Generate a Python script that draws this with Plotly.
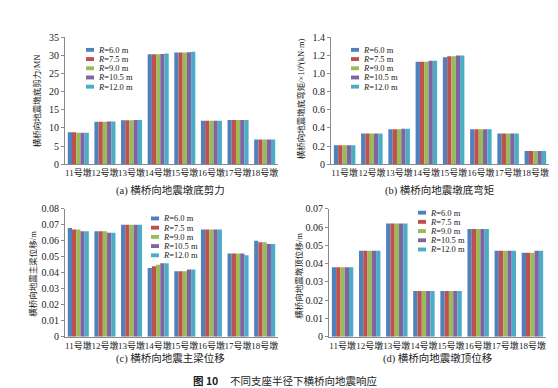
import plotly.graph_objects as go

# ---------------- data ----------------
piers = ["11号墩", "12号墩", "13号墩", "14号墩", "15号墩", "16号墩", "17号墩", "18号墩"]
radius_labels = ["<i>R</i>=6.0 m", "<i>R</i>=7.5 m", "<i>R</i>=9.0 m", "<i>R</i>=10.5 m", "<i>R</i>=12.0 m"]
colors = ["#4F81BD", "#C0504D", "#9BBB59", "#8064A2", "#4BACC6"]

# (a) pier-bottom shear, MN  (one list per radius)
shear_R6 = [8.8, 11.7, 12.1, 30.3, 30.8, 12.0, 12.2, 6.8]
shear_R75 = [8.8, 11.7, 12.1, 30.3, 30.8, 12.0, 12.2, 6.8]
shear_R9 = [8.7, 11.7, 12.1, 30.3, 30.8, 12.0, 12.2, 6.8]
shear_R105 = [8.7, 11.8, 12.2, 30.4, 30.9, 12.0, 12.2, 6.8]
shear_R12 = [8.7, 11.8, 12.2, 30.5, 31.0, 12.0, 12.2, 6.8]

# (b) pier-bottom moment, x10^6 kN*m
moment_R6 = [0.21, 0.34, 0.385, 1.13, 1.18, 0.385, 0.34, 0.145]
moment_R75 = [0.21, 0.34, 0.385, 1.13, 1.19, 0.385, 0.34, 0.145]
moment_R9 = [0.21, 0.34, 0.385, 1.13, 1.19, 0.385, 0.34, 0.145]
moment_R105 = [0.21, 0.34, 0.39, 1.14, 1.20, 0.385, 0.34, 0.145]
moment_R12 = [0.21, 0.34, 0.39, 1.14, 1.20, 0.385, 0.34, 0.145]

# (c) girder displacement, m
girder_R6 = [0.068, 0.066, 0.070, 0.043, 0.041, 0.067, 0.052, 0.060]
girder_R75 = [0.067, 0.066, 0.070, 0.044, 0.041, 0.067, 0.052, 0.059]
girder_R9 = [0.067, 0.066, 0.070, 0.045, 0.041, 0.067, 0.052, 0.059]
girder_R105 = [0.066, 0.065, 0.070, 0.046, 0.042, 0.067, 0.052, 0.058]
girder_R12 = [0.066, 0.065, 0.070, 0.046, 0.042, 0.067, 0.051, 0.058]

# (d) pier-top displacement, m
top_R6 = [0.038, 0.047, 0.062, 0.025, 0.025, 0.059, 0.047, 0.046]
top_R75 = [0.038, 0.047, 0.062, 0.025, 0.025, 0.059, 0.047, 0.046]
top_R9 = [0.038, 0.047, 0.062, 0.025, 0.025, 0.059, 0.047, 0.046]
top_R105 = [0.038, 0.047, 0.062, 0.025, 0.025, 0.059, 0.047, 0.047]
top_R12 = [0.038, 0.047, 0.062, 0.025, 0.025, 0.059, 0.047, 0.047]

# y tick labels
ticks_a = [0, 5, 10, 15, 20, 25, 30, 35]
ticks_b = [0, 0.2, 0.4, 0.6, 0.8, 1.0, 1.2, 1.4]
ticktext_b = ["0", "0.2", "0.4", "0.6", "0.8", "1.0", "1.2", "1.4"]
ticks_c = [0, 0.01, 0.02, 0.03, 0.04, 0.05, 0.06, 0.07, 0.08]
ticktext_c = ["0", "0.01", "0.02", "0.03", "0.04", "0.05", "0.06", "0.07", "0.08"]
ticks_d = [0, 0.01, 0.02, 0.03, 0.04, 0.05, 0.06, 0.07]
ticktext_d = ["0", "0.01", "0.02", "0.03", "0.04", "0.05", "0.06", "0.07"]

ytitle_a = "横桥向地震墩底剪力/MN"
ytitle_b = "横桥向地震墩底弯矩/×10<sup>6</sup>(kN·m)"
ytitle_c = "横桥向地震主梁位移/m"
ytitle_d = "横桥向地震墩顶位移/m"
caption_a = "(a) 横桥向地震墩底剪力"
caption_b = "(b) 横桥向地震墩底弯矩"
caption_c = "(c) 横桥向地震主梁位移"
caption_d = "(d) 横桥向地震墩顶位移"
fig_caption = "<b>图 10</b>&nbsp;&nbsp;&nbsp;&nbsp;&nbsp;不同支座半径下横桥向地震响应"

# ---------------- layout helpers ----------------
W, H = 558, 388
def fx(x):
    return x / W
def fy(y):
    return 1 - y / H

SERIF = "Liberation Serif, Times New Roman, Noto Sans CJK SC"
TXT = "#222222"

panels = [
    dict(series=[shear_R6, shear_R75, shear_R9, shear_R105, shear_R12],
         xd=(57, 270), yd=(24, 155), rng=[0, 35], tv=ticks_a, tt=[str(v) for v in ticks_a],
         ytitle=ytitle_a, ytx=29, yty=90, cap=caption_a, capx=162, capy=182,
         leg=(78, 37)),
    dict(series=[moment_R6, moment_R75, moment_R9, moment_R105, moment_R12],
         xd=(323, 541), yd=(24, 155), rng=[0, 1.4], tv=ticks_b, tt=ticktext_b,
         ytitle=ytitle_b, ytx=293, yty=88, cap=caption_b, capx=431, capy=182,
         leg=(343, 37)),
    dict(series=[girder_R6, girder_R75, girder_R9, girder_R105, girder_R12],
         xd=(57, 270), yd=(201, 333), rng=[0, 0.08], tv=ticks_c, tt=ticktext_c,
         ytitle=ytitle_c, ytx=25, yty=268, cap=caption_c, capx=162, capy=356,
         leg=(143, 211)),
    dict(series=[top_R6, top_R75, top_R9, top_R105, top_R12],
         xd=(321, 538), yd=(201, 333), rng=[0, 0.07], tv=ticks_d, tt=ticktext_d,
         ytitle=ytitle_d, ytx=291, yty=270, cap=caption_d, capx=430, capy=356,
         leg=(410, 205)),
]

fig = go.Figure()
annotations = []
shapes = []
layout_axes = {}

for k, p in enumerate(panels, start=1):
    xa = "x" if k == 1 else f"x{k}"
    ya = "y" if k == 1 else f"y{k}"
    for r, vals in enumerate(p["series"]):
        fig.add_trace(go.Bar(
            x=piers, y=vals, name=radius_labels[r], marker_color=colors[r],
            marker_line_width=0, xaxis=xa, yaxis=ya, showlegend=False,
            offsetgroup=str(r),
        ))
    xkey = "xaxis" if k == 1 else f"xaxis{k}"
    ykey = "yaxis" if k == 1 else f"yaxis{k}"
    layout_axes[xkey] = dict(
        domain=[fx(p["xd"][0]), fx(p["xd"][1])], anchor=ya,
        range=[-0.5, 7.5], showline=True, linecolor="#8a8a8a", linewidth=1,
        ticks="", showgrid=False, tickangle=0,
        tickfont=dict(family=SERIF, size=9, color=TXT),
    )
    layout_axes[ykey] = dict(
        domain=[fy(p["yd"][1]), fy(p["yd"][0])], anchor=xa,
        range=p["rng"], tickvals=p["tv"], ticktext=p["tt"],
        showline=True, linecolor="#8a8a8a", linewidth=1,
        ticks="outside", ticklen=3, tickcolor="#8a8a8a",
        showgrid=False, zeroline=False,
        tickfont=dict(family=SERIF, size=10, color=TXT),
    )
    annotations.append(dict(
        x=fx(p["ytx"]), y=fy(p["yty"]), xref="paper", yref="paper",
        text=p["ytitle"], textangle=-90, showarrow=False,
        xanchor="center", yanchor="middle",
        font=dict(family=SERIF, size=8.5, color=TXT),
    ))
    annotations.append(dict(
        x=fx(p["capx"]), y=fy(p["capy"]), xref="paper", yref="paper",
        text=p["cap"], showarrow=False, xanchor="center", yanchor="middle",
        font=dict(family=SERIF, size=10.5, color=TXT),
    ))
    # legend (custom, compact)
    lx, ly = p["leg"]
    for r in range(5):
        yy = ly + r * 9.5
        shapes.append(dict(
            type="rect", xref="paper", yref="paper",
            x0=fx(lx), x1=fx(lx + 8), y0=fy(yy + 2), y1=fy(yy - 2),
            fillcolor=colors[r], line=dict(width=0),
        ))
        annotations.append(dict(
            x=fx(lx + 10), y=fy(yy), xref="paper", yref="paper",
            text=radius_labels[r], showarrow=False, xanchor="left", yanchor="middle",
            font=dict(family=SERIF, size=8.5, color=TXT),
        ))

annotations.append(dict(
    x=fx(277), y=fy(378), xref="paper", yref="paper", text=fig_caption,
    showarrow=False, xanchor="center", yanchor="middle",
    font=dict(family="Noto Sans CJK SC, DejaVu Sans", size=10.5, color=TXT),
))

fig.update_layout(
    width=W, height=H, margin=dict(l=0, r=0, t=0, b=0),
    paper_bgcolor="white", plot_bgcolor="white",
    barmode="group", bargap=0.21, bargroupgap=0,
    annotations=annotations, shapes=shapes, showlegend=False,
    **layout_axes,
)

fig.write_html("out.html")
